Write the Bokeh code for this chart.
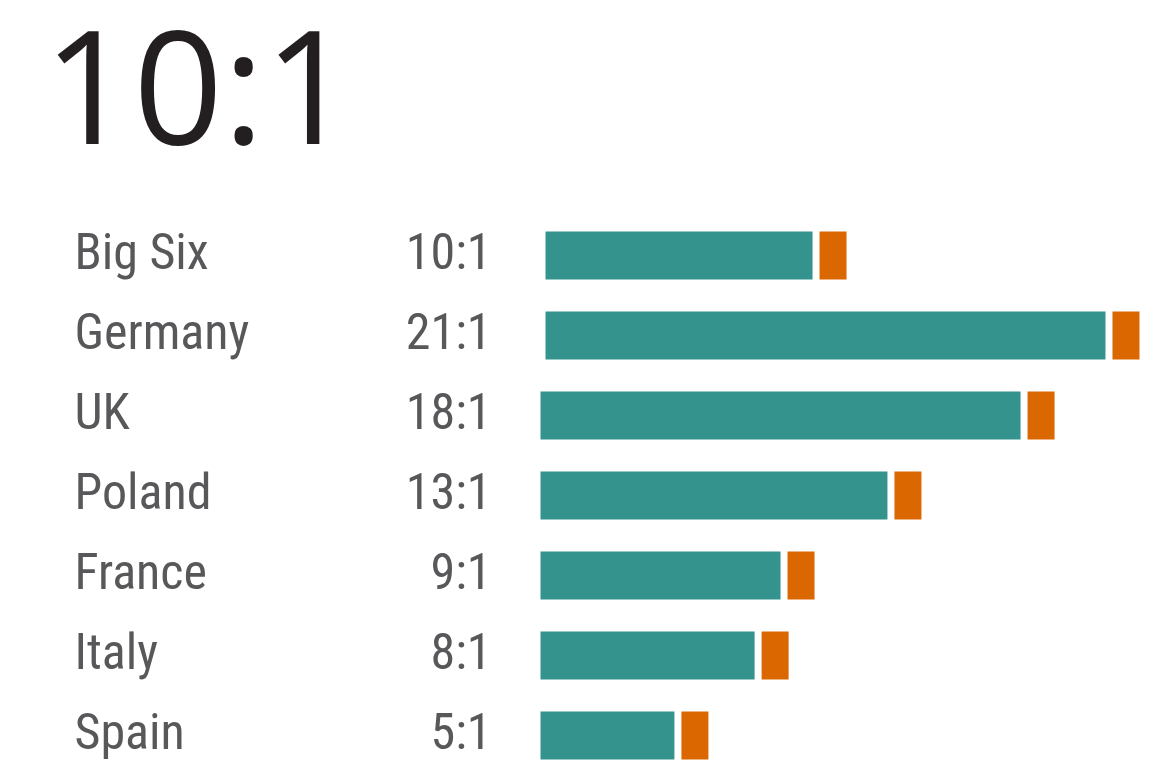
from bokeh.plotting import figure
from bokeh.models import Range1d, ColumnDataSource
from bokeh.core.properties import value
from bokeh.embed import file_html
from bokeh.resources import INLINE

# ---- data ----
headline = "10:1"
countries = ["Big Six", "Germany", "UK", "Poland", "France", "Italy", "Spain"]
ratio_labels = ["10:1", "21:1", "18:1", "13:1", "9:1", "8:1", "5:1"]
teal_values = [9.89, 20.74, 17.78, 12.85, 8.89, 7.93, 4.96]
orange_values = [1, 1, 1, 1, 1, 1, 1]

# ---- layout (pixels) ----
W, H = 1158, 760
UNIT = 27.0          # px per ratio unit
ROW = 80.0           # px per row
X0 = 540             # x of zero
Y0 = 255             # y of first row centre
GAP = 7 / UNIT
indent = [5 / UNIT, 5 / UNIT, 0, 0, 0, 0, 0]

TEAL = "#35938d"
ORANGE = "#db6700"
GREY = "#58585b"
DARK = "#231f20"
LABEL_FONT = "'Roboto Condensed', 'DejaVu Sans Condensed', 'Liberation Sans Narrow', sans-serif"

xs = -X0 / UNIT
ys = -Y0 / ROW
p = figure(width=W, height=H, output_backend="svg", toolbar_location=None,
           x_range=Range1d(xs, xs + W / UNIT),
           y_range=Range1d(ys + H / ROW, ys),
           x_axis_type=None, y_axis_type=None, min_border=0,
           outline_line_color=None, background_fill_color="white",
           border_fill_color="white")
p.grid.visible = False

rows = list(range(len(countries)))
teal_left = indent
teal_right = [a + v for a, v in zip(indent, teal_values)]
or_left = [r + GAP for r in teal_right]
or_right = [l + v for l, v in zip(or_left, orange_values)]

src = ColumnDataSource(dict(y=rows, tl=teal_left, tr=teal_right,
                            ol=or_left, orr=or_right,
                            name=countries, lab=ratio_labels,
                            ty=[r - 4 / ROW for r in rows]))

p.hbar(y="y", left="tl", right="tr", height=48 / ROW, source=src,
       fill_color=TEAL, line_color=None)
p.hbar(y="y", left="ol", right="orr", height=48 / ROW, source=src,
       fill_color=ORANGE, line_color=None)

p.text(x=(74 - X0) / UNIT, y="ty", text="name", source=src,
       text_font=value(LABEL_FONT), text_font_size="50px",
       text_color=GREY, text_align="left", text_baseline="alphabetic")
p.text(x=(491 - X0) / UNIT, y="ty", text="lab", source=src,
       text_font=value(LABEL_FONT), text_font_size="50px",
       text_color=GREY, text_align="right", text_baseline="alphabetic")

p.text(x=[(43 - X0) / UNIT], y=[82 / ROW + ys], text=[headline],
       text_font=value("Open Sans"), text_font_size="157px",
       text_color=DARK, text_align="left", text_baseline="alphabetic")

open("out.html", "w").write(file_html(p, INLINE))
